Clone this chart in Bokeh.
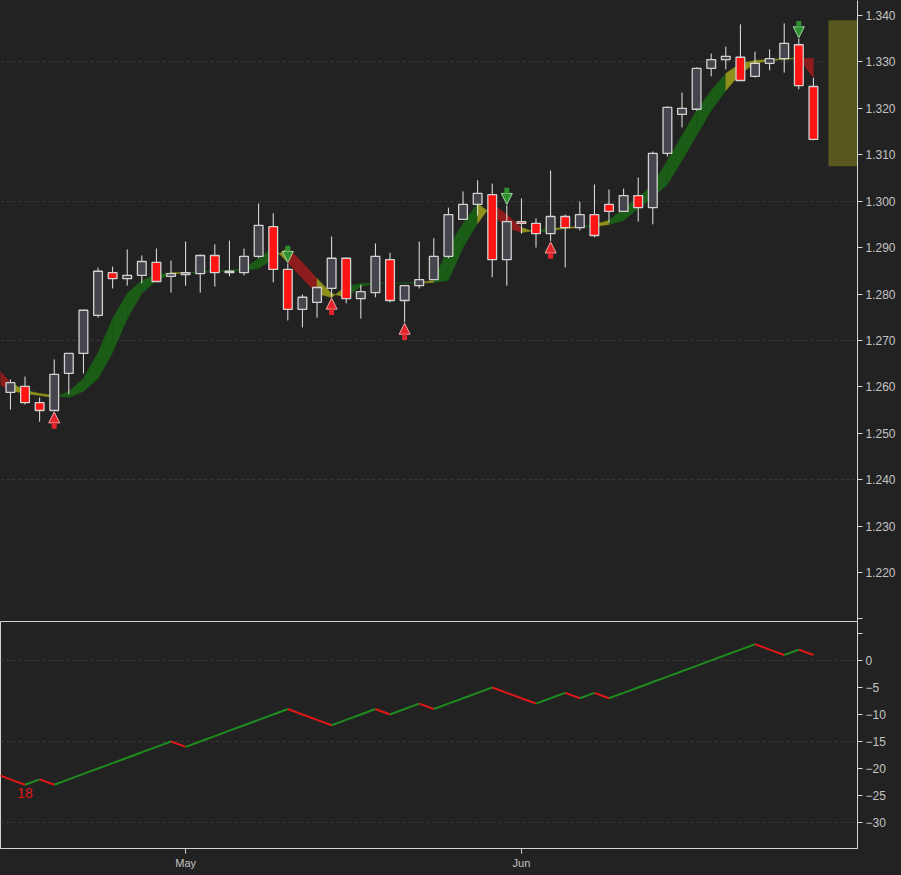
from bokeh.plotting import figure
from bokeh.models import (Range1d, FixedTicker, ColumnDataSource, Arrow,
                          NormalHead, NumeralTickFormatter, GlobalInlineStyleSheet)
from bokeh.layouts import column
from bokeh.embed import file_html
from bokeh.resources import INLINE
from bokeh.core.properties import value

# ---------------- data ----------------
idx = list(range(1, 57))
opens = [1.2588, 1.2601, 1.2566, 1.2549, 1.2629, 1.2672, 1.2754, 1.2846, 1.2833, 1.2840,
         1.2868, 1.2838, 1.2842, 1.2844, 1.2883, 1.2846, 1.2846, 1.2881, 1.2945, 1.2853,
         1.2767, 1.2782, 1.2812, 1.2877, 1.2790, 1.2803, 1.2874, 1.2786, 1.2818, 1.2831,
         1.2881, 1.2961, 1.2993, 1.3014, 1.2874, 1.2956, 1.2952, 1.2930, 1.2967, 1.2943,
         1.2971, 1.2993, 1.2978, 1.3012, 1.2986, 1.3103, 1.3187, 1.3198, 1.3286, 1.3305,
         1.3310, 1.3269, 1.3297, 1.3307, 1.3337, 1.3247]
highs = [1.2616, 1.2622, 1.2577, 1.2659, 1.2673, 1.2766, 1.2857, 1.2859, 1.2896, 1.2883,
         1.2898, 1.2872, 1.2913, 1.2885, 1.2907, 1.2915, 1.2898, 1.2995, 1.2974, 1.2866,
         1.2799, 1.2815, 1.2924, 1.2878, 1.2820, 1.2909, 1.2889, 1.2819, 1.2913, 1.2920,
         1.2986, 1.3021, 1.3045, 1.3038, 1.2991, 1.3006, 1.2963, 1.3066, 1.2971, 1.2999,
         1.3036, 1.3025, 1.3027, 1.3051, 1.3107, 1.3204, 1.3234, 1.3288, 1.3318, 1.3333,
         1.3381, 1.3322, 1.3327, 1.3383, 1.3350, 1.3266]
lows = [1.2551, 1.2562, 1.2525, 1.2548, 1.2584, 1.2629, 1.2749, 1.2812, 1.2818, 1.2823,
        1.2826, 1.2803, 1.2818, 1.2803, 1.2816, 1.2838, 1.2840, 1.2877, 1.2825, 1.2743,
        1.2728, 1.2749, 1.2793, 1.2780, 1.2747, 1.2793, 1.2782, 1.2739, 1.2812, 1.2830,
        1.2877, 1.2960, 1.2969, 1.2836, 1.2818, 1.2930, 1.2900, 1.2914, 1.2857, 1.2937,
        1.2922, 1.2954, 1.2977, 1.2956, 1.2950, 1.3096, 1.3159, 1.3195, 1.3269, 1.3284,
        1.3260, 1.3266, 1.3282, 1.3277, 1.3241, 1.3131]
closes = [1.2609, 1.2566, 1.2549, 1.2627, 1.2672, 1.2765, 1.2849, 1.2833, 1.2840, 1.2870,
          1.2827, 1.2844, 1.2846, 1.2883, 1.2846, 1.2849, 1.2881, 1.2948, 1.2853, 1.2767,
          1.2793, 1.2814, 1.2877, 1.2790, 1.2805, 1.2881, 1.2786, 1.2818, 1.2831, 1.2881,
          1.2971, 1.2993, 1.3017, 1.2874, 1.2956, 1.2952, 1.2930, 1.2967, 1.2943, 1.2971,
          1.2926, 1.2978, 1.3012, 1.2986, 1.3103, 1.3202, 1.3200, 1.3286, 1.3305, 1.3312,
          1.3260, 1.3297, 1.3307, 1.3340, 1.3249, 1.3133]

# trend ribbon line, bar indices -1 .. 56
ma_idx = list(range(-1, 57))
ma = [1.26439, 1.26094, 1.25922, 1.25857, 1.25814, 1.25771, 1.25900, 1.26180, 1.26740, 1.27473,
      1.28011, 1.28291, 1.28420, 1.28464, 1.28460, 1.28485, 1.28496, 1.28507, 1.28550, 1.28765,
      1.29002, 1.28679, 1.28334, 1.28011, 1.27925, 1.28162, 1.28227, 1.28230, 1.28233, 1.28237,
      1.28248, 1.28291, 1.29000, 1.29519, 1.29950, 1.29713, 1.29433, 1.29325, 1.29368, 1.29411,
      1.29433, 1.29455, 1.29498, 1.29584, 1.29842, 1.30079, 1.30359, 1.30876, 1.31415, 1.31953,
      1.32384, 1.32751, 1.32966, 1.33031, 1.33052, 1.33074, 1.33078, 1.32664]
# ribbon state of each segment ending at bar 1 .. 56 (U up, D down, F turning/flat)
ribbon_state = ["D", "F", "F", "F", "U", "U", "U", "U", "U", "U", "U", "U", "F", "U", "U", "U",
                "U", "U", "U", "F", "D", "D", "F", "F", "U", "U", "U", "U", "U", "F", "U", "U",
                "U", "F", "D", "D", "F", "U", "F", "F", "U", "F", "U", "U", "U", "U", "U", "U",
                "U", "U", "F", "F", "F", "F", "F", "D"]

up_arrows = [4, 23, 28, 38]
down_arrows = [20, 35, 55]

box_left, box_right = [57.03], [59.77]
box_top, box_bottom = [1.3390], [1.3075]

# lower panel counter, bar indices 0 .. 56
cnt_idx = list(range(0, 57))
cnt = [-21, -22, -23, -22, -23, -22, -21, -20, -19, -18, -17, -16, -15, -16, -15, -14, -13,
       -12, -11, -10, -9, -10, -11, -12, -11, -10, -9, -10, -9, -8, -9, -8, -7, -6, -5, -6,
       -7, -8, -7, -6, -7, -6, -7, -6, -5, -4, -3, -2, -1, 0, 1, 2, 3, 2, 1, 2, 1]
note_idx, note_val, note_text = [2], [-23.6], ["18"]

month_ticks = [13, 36]
month_labels = ["May", "Jun"]
price_ticks = [round(1.21 + 0.01 * k, 2) for k in range(14)]
price_grid = [1.24, 1.27, 1.30, 1.33]
cnt_ticks = [5, 0, -5, -10, -15, -20, -25, -30]
cnt_grid = [0, -15, -30]

# ---------------- style ----------------
BG = "#222222"
AX = "#d4d4d4"
LBL = "#c4c4c4"
FONT = "Liberation Sans"
GRID = "#3a3a3a"
FW = 857
RB = 44
C_UP = "#1b5c17"
C_DN = "#8e1c1c"
C_FL = "#8f8f1c"

xr = Range1d(0.32, 59.02)

p1 = figure(frame_width=FW, frame_height=621, x_range=xr, y_range=Range1d(1.20945, 1.34323),
            output_backend="svg", toolbar_location=None, y_axis_location="right",
            min_border_left=0, min_border_right=RB, min_border_top=0, min_border_bottom=0,
            background_fill_color=BG, border_fill_color=BG, outline_line_color=None)
p1.xaxis.visible = False
p1.xgrid.visible = False

p2 = figure(frame_width=FW, frame_height=227, x_range=xr, y_range=Range1d(-34.8, 7.2),
            output_backend="svg", toolbar_location=None, y_axis_location="right",
            min_border_left=0, min_border_right=RB, min_border_top=0, min_border_bottom=0,
            background_fill_color=BG, border_fill_color=BG, outline_line_color=AX)
p2.xgrid.visible = False

for p in (p1, p2):
    for ax in (p.yaxis[0],) + ((p.xaxis[0],) if p is p2 else ()):
        ax.axis_line_color = AX
        ax.major_tick_line_color = AX
        ax.minor_tick_line_color = None
        ax.major_tick_out = 5
        ax.major_tick_in = 0
        ax.major_label_text_color = LBL
        ax.major_label_text_font = FONT
        ax.major_label_text_font_size = "12px"
        ax.major_label_standoff = 3
    p.ygrid.grid_line_color = GRID
    p.ygrid.grid_line_dash = "3 3"

p1.yaxis.ticker = FixedTicker(ticks=price_ticks)
p1.yaxis.formatter = NumeralTickFormatter(format="0.000")
p1.yaxis.major_label_overrides = {price_ticks[0]: ""}
p1.ygrid.ticker = FixedTicker(ticks=price_grid)

p2.yaxis.ticker = FixedTicker(ticks=cnt_ticks)
p2.yaxis.major_label_overrides = {cnt_ticks[0]: ""}
p2.ygrid.ticker = FixedTicker(ticks=cnt_grid)
p2.xaxis.ticker = FixedTicker(ticks=month_ticks)
p2.xaxis.major_label_overrides = dict(zip(month_ticks, month_labels))
p2.xaxis.major_label_text_font_size = "11px"

# ---------------- ribbon ----------------
col_of = {"U": C_UP, "D": C_DN, "F": C_FL}
xs, ys, cols = [], [], []
for k in range(2, len(ma)):
    i = ma_idx[k]
    xs.append([i - 1, i, i, i - 1])
    ys.append([ma[k - 1], ma[k], ma[k - 1], ma[k - 2]])
    cols.append(col_of[ribbon_state[k - 2]])
p1.patches(xs, ys, fill_color=cols, line_color=cols, line_width=0.5)

# ---------------- range box ----------------
p1.quad(left=box_left, right=box_right, top=box_top, bottom=box_bottom,
        fill_color="#59591f", line_color=None)

# ---------------- candles ----------------
src = ColumnDataSource(dict(
    x=idx, h=highs, l=lows,
    top=[max(o, c) for o, c in zip(opens, closes)],
    bot=[min(o, c) for o, c in zip(opens, closes)],
    fill=["#45454e" if c >= o else "#ff1414" for o, c in zip(opens, closes)],
))
p1.segment(x0="x", y0="h", x1="x", y1="l", source=src, line_color="#e6e6e6", line_width=1)
p1.vbar(x="x", width=0.6, top="top", bottom="bot", source=src,
        fill_color="fill", line_color="#d2d2d2", line_width=1.3)

# ---------------- signal arrows ----------------
up_src = ColumnDataSource(dict(
    x=up_arrows,
    y0=[lows[i - 1] - 0.0038 for i in up_arrows],
    y1=[lows[i - 1] - 0.0002 for i in up_arrows]))
p1.add_layout(Arrow(end=NormalHead(size=11, fill_color="#e3242b", line_color="#f2a5a5", line_width=1),
                    x_start="x", y_start="y0", x_end="x", y_end="y1", source=up_src,
                    line_color="#e3242b", line_width=5))
dn_src = ColumnDataSource(dict(
    x=down_arrows,
    y0=[highs[i - 1] + 0.0038 for i in down_arrows],
    y1=[highs[i - 1] + 0.0002 for i in down_arrows]))
p1.add_layout(Arrow(end=NormalHead(size=11, fill_color="#2f8f2f", line_color="#a5d8a5", line_width=1),
                    x_start="x", y_start="y0", x_end="x", y_end="y1", source=dn_src,
                    line_color="#2f8f2f", line_width=5))

# ---------------- lower panel ----------------
seg_cols = ["#1f8c1f" if cnt[k] > cnt[k - 1] else "#e01818" for k in range(1, len(cnt))]
p2.segment(x0=cnt_idx[:-1], y0=cnt[:-1], x1=cnt_idx[1:], y1=cnt[1:],
           line_color=seg_cols, line_width=2)
p2.text(x=note_idx, y=note_val, text=note_text, text_color="#e01818",
        text_font=value(FONT), text_font_size="14px", text_align="center", text_baseline="top")

layout = column(p1, p2, spacing=0, styles={"background-color": BG})
layout.stylesheets = [GlobalInlineStyleSheet(css="html, body { background-color: #222222; }")]
open("out.html", "w").write(file_html(layout, INLINE))
